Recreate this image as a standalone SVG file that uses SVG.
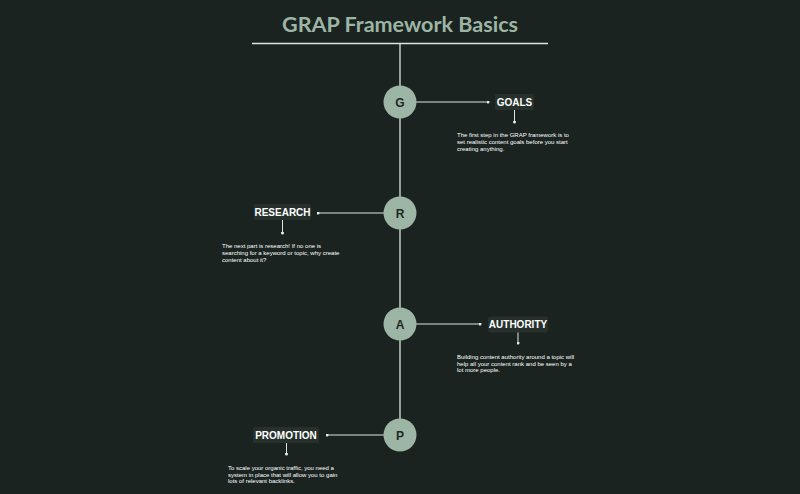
<svg xmlns="http://www.w3.org/2000/svg" width="800" height="494" viewBox="0 0 800 494">
<defs>
<marker id="dot" viewBox="0 0 6 6" refX="3" refY="3" markerWidth="3" markerHeight="3" markerUnits="userSpaceOnUse"><circle cx="3" cy="3" r="3" fill="#e6e9e6"/></marker>
<style>
.title{font-family:"Lato","Liberation Sans",sans-serif;font-weight:bold;font-size:21px;fill:#9db5a4;text-anchor:middle}
.ln{stroke:#e0e4e0;stroke-width:1.3;fill:none}
.con{stroke:#e0e4e0;stroke-width:1;fill:none;marker-end:url(#dot)}
.circ{fill:#9db5a4}
.letter{font-family:"Liberation Sans",sans-serif;font-weight:bold;font-size:12px;fill:#1f2925;text-anchor:middle}
.box{fill:#26312c}
.lbl{font-family:"Liberation Sans",sans-serif;font-weight:bold;font-size:10px;fill:#ffffff;text-anchor:middle}
.desc{font-family:"Liberation Sans",sans-serif;font-size:6px;fill:#ffffff}
</style>
</defs>
<rect width="800" height="494" fill="#1a2320"/>
<text class="title" x="400" y="32" textLength="236" lengthAdjust="spacingAndGlyphs">GRAP Framework Basics</text>
<g id="spine">
<line class="ln" x1="252" y1="43.5" x2="548" y2="43.5"/>
<line class="ln" x1="400" y1="43.5" x2="400" y2="435"/>
</g>
<g id="connectors">
<line class="con" x1="416" y1="102" x2="488" y2="102"/>
<line class="con" x1="514.5" y1="110" x2="514.5" y2="122"/>
<line class="con" x1="384" y1="213" x2="318" y2="213"/>
<line class="con" x1="282.5" y1="220" x2="282.5" y2="233"/>
<line class="con" x1="416" y1="324" x2="480" y2="324"/>
<line class="con" x1="518" y1="332" x2="518" y2="343"/>
<line class="con" x1="384" y1="435" x2="327" y2="435"/>
<line class="con" x1="286.5" y1="443" x2="286.5" y2="454"/>
</g>
<g id="node-g">
<circle class="circ" cx="400" cy="102" r="16.5"/>
<text class="letter" x="400" y="106.5">G</text>
</g>
<g id="node-r">
<circle class="circ" cx="400" cy="213" r="16.5"/>
<text class="letter" x="400" y="217.5">R</text>
</g>
<g id="node-a">
<circle class="circ" cx="400" cy="324" r="16.5"/>
<text class="letter" x="400" y="328.5">A</text>
</g>
<g id="node-p">
<circle class="circ" cx="400" cy="435" r="16.5"/>
<text class="letter" x="400" y="439.5">P</text>
</g>
<g id="goals">
<rect class="box" x="495" y="94" width="39" height="16" rx="2"/>
<text class="lbl" x="514.5" y="105.5">GOALS</text>
<text class="desc"><tspan x="457" y="137">The first step in the GRAP framework is to</tspan><tspan x="457" y="144">set realistic content goals before you start</tspan><tspan x="457" y="150.5">creating anything.</tspan></text>
</g>
<g id="research">
<rect class="box" x="254" y="204" width="57" height="16" rx="2"/>
<text class="lbl" x="282.5" y="215.5">RESEARCH</text>
<text class="desc"><tspan x="222" y="248">The next part is research! If no one is</tspan><tspan x="222" y="255">searching for a keyword or topic, why create</tspan><tspan x="222" y="261.5">content about it?</tspan></text>
</g>
<g id="authority">
<rect class="box" x="488" y="316.5" width="60" height="16" rx="2"/>
<text class="lbl" x="518" y="328">AUTHORITY</text>
<text class="desc"><tspan x="457" y="359">Building content authority around a topic will</tspan><tspan x="457" y="365.5">help all your content rank and be seen by a</tspan><tspan x="457" y="372">lot more people.</tspan></text>
</g>
<g id="promotion">
<rect class="box" x="253" y="427" width="66" height="16" rx="2"/>
<text class="lbl" x="286" y="438.5">PROMOTION</text>
<text class="desc"><tspan x="228" y="470">To scale your organic traffic, you need a</tspan><tspan x="228" y="476.5">system in place that will allow you to gain</tspan><tspan x="228" y="483">lots of relevant backlinks.</tspan></text>
</g>
</svg>
